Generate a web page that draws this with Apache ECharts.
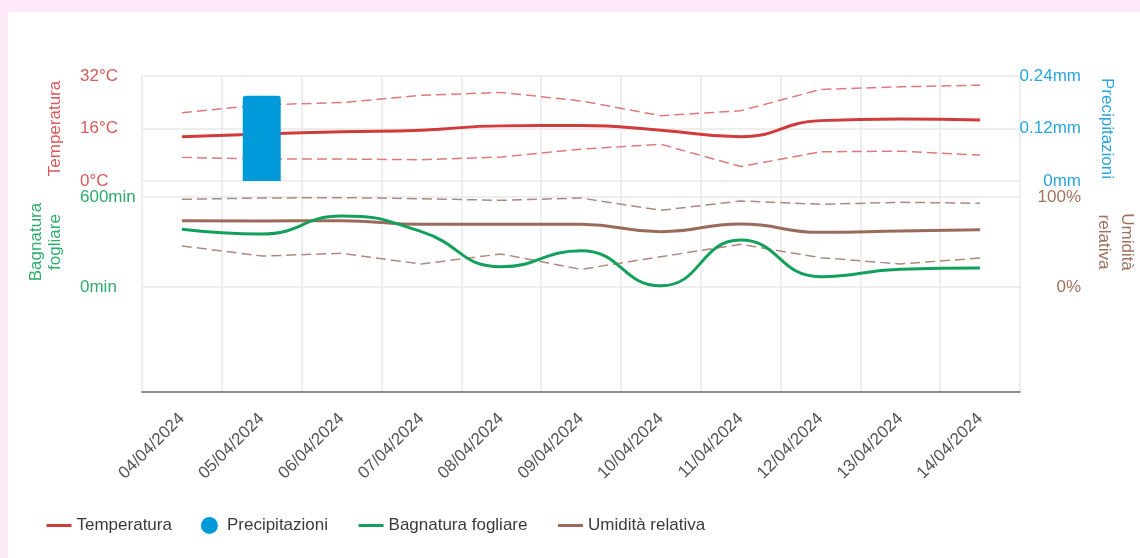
<!DOCTYPE html>
<html>
<head>
<meta charset="utf-8">
<script src="https://cdn.jsdelivr.net/npm/echarts@6/dist/echarts.min.js"></script>
<style>
  html, body { margin: 0; padding: 0; width: 1140px; height: 558px; background: #fce8f6; overflow: hidden; }
  #card { position: absolute; left: 8px; top: 12px; right: 0; bottom: 0; background: #ffffff; }
  #chart { position: absolute; left: 0; top: 0; width: 1140px; height: 558px; }
</style>
</head>
<body>
<div id="card"></div>
<div id="chart"></div>
<script>
const dates = ['04/04/2024','05/04/2024','06/04/2024','07/04/2024','08/04/2024','09/04/2024','10/04/2024','11/04/2024','12/04/2024','13/04/2024','14/04/2024'];
const tempAvg = [13.5, 14.3, 15.0, 15.5, 16.8, 16.9, 15.5, 13.5, 18.4, 18.9, 18.6];
const tempMax = [20.8, 23.2, 23.9, 26.1, 27.0, 24.4, 19.9, 21.4, 27.9, 28.7, 29.2];
const tempMin = [7.2, 6.7, 6.7, 6.5, 7.3, 9.7, 11.2, 4.4, 8.9, 9.1, 7.9];
const precip = [0, 0.195, 0, 0, 0, 0, 0, 0, 0, 0, 0];
const leafWet = [385, 353, 473, 369, 135, 242, 8, 313, 69, 118, 127];
const humAvg = [73.7, 73.3, 73.7, 69.6, 69.6, 69.6, 61.5, 70, 60.7, 62.2, 63.7];
const humMax = [97.4, 98.9, 99.3, 98.1, 96.3, 98.9, 85.2, 95.6, 91.9, 94.1, 93];
const humMin = [45.6, 34.4, 37.4, 25.6, 36.7, 19.6, 33.7, 47.4, 32.6, 25.6, 32.2];

const FONT = '"Liberation Sans", Arial, sans-serif';
const RED = '#d13b3b', RED_L = '#e07a7a', RED_T = '#d9585a';
const BLUE = '#009ada', BLUE_T = '#2aa6df';
const GREEN = '#12a05a', GREEN_T = '#2fac6c';
const BROWN = '#9a6b5c', BROWN_L = '#ad8a7e', BROWN_T = '#a0725f';
const GRIDC = '#e8e8e8';

const chart = echarts.init(document.getElementById('chart'));
const gridPos = { left: 142, right: 120, outerBoundsMode: 'none', containLabel: false };
const hiddenX = (gi) => ({ type: 'category', gridIndex: gi, data: dates, boundaryGap: true, show: false });
const noSym = { opacity: 0 };

chart.setOption({
  animation: false,
  textStyle: { fontFamily: FONT },
  grid: [
    Object.assign({ top: 76, bottom: 166 }, gridPos),
    Object.assign({ top: 76, height: 105 }, gridPos),
    Object.assign({ top: 197, height: 90 }, gridPos)
  ],
  legend: {
    left: 40, top: 512,
    itemWidth: 25, itemHeight: 17, itemGap: 29,
    textStyle: { fontSize: 17, color: '#3a3a3a', fontFamily: FONT },
    data: [
      { name: 'Temperatura', itemStyle: noSym, lineStyle: { width: 3, color: RED } },
      { name: 'Precipitazioni', icon: 'circle' },
      { name: 'Bagnatura fogliare', itemStyle: noSym, lineStyle: { width: 3, color: GREEN } },
      { name: 'Umidità relativa', itemStyle: noSym, lineStyle: { width: 3, color: BROWN } }
    ]
  },
  xAxis: [
    {
      type: 'category', gridIndex: 0, data: dates, boundaryGap: true,
      axisLine: { show: true, lineStyle: { color: '#6b6b6b', width: 1.5 } },
      axisTick: { show: false },
      splitLine: { show: true, lineStyle: { color: GRIDC, width: 1.5 } },
      axisLabel: { rotate: 45, fontSize: 17, color: '#555', margin: 24, interval: 0, fontFamily: FONT }
    },
    hiddenX(1),
    hiddenX(2)
  ],
  yAxis: [
    { type: 'value', gridIndex: 0, show: false, min: 0, max: 1 },
    {
      type: 'value', gridIndex: 1, min: 0, max: 32, interval: 16, position: 'left',
      name: 'Temperatura', nameLocation: 'middle', nameGap: 78, nameRotate: 90,
      nameTextStyle: { color: RED_T, fontSize: 17, fontFamily: FONT },
      axisLine: { show: false }, axisTick: { show: false },
      splitLine: { show: true, lineStyle: { color: GRIDC, width: 1.5 } },
      axisLabel: { formatter: '{value}°C', color: RED_T, fontSize: 17, align: 'left', margin: 62, fontFamily: FONT }
    },
    {
      type: 'value', gridIndex: 1, min: 0, max: 0.24, interval: 0.12, position: 'right',
      name: 'Precipitazioni', nameLocation: 'middle', nameGap: 78, nameRotate: -90,
      nameTextStyle: { color: BLUE_T, fontSize: 17, fontFamily: FONT },
      axisLine: { show: false }, axisTick: { show: false }, splitLine: { show: false },
      axisLabel: { formatter: (v) => (+v.toFixed(2)) + 'mm', color: BLUE_T, fontSize: 17, align: 'right', margin: 61, fontFamily: FONT }
    },
    {
      type: 'value', gridIndex: 2, min: 0, max: 600, interval: 600, position: 'left',
      name: 'Bagnatura\nfogliare', nameLocation: 'middle', nameGap: 77, nameRotate: 90,
      nameTextStyle: { color: GREEN_T, fontSize: 17, lineHeight: 19, fontFamily: FONT },
      axisLine: { show: false }, axisTick: { show: false },
      splitLine: { show: true, lineStyle: { color: GRIDC, width: 1.5 } },
      axisLabel: { formatter: '{value}min', color: GREEN_T, fontSize: 17, align: 'left', margin: 62, fontFamily: FONT }
    },
    {
      type: 'value', gridIndex: 2, min: 0, max: 100, interval: 100, position: 'right',
      name: 'Umidità\nrelativa', nameLocation: 'middle', nameGap: 72, nameRotate: -90,
      nameTextStyle: { color: BROWN_T, fontSize: 17, lineHeight: 23, fontFamily: FONT },
      axisLine: { show: false }, axisTick: { show: false }, splitLine: { show: false },
      axisLabel: { formatter: '{value}%', color: BROWN_T, fontSize: 17, align: 'right', margin: 61, fontFamily: FONT }
    }
  ],
  series: [
    { name: 'Temperatura max', type: 'line', xAxisIndex: 1, yAxisIndex: 1, data: tempMax, symbol: 'none',
      lineStyle: { color: RED_L, width: 1.5, type: [10, 5] }, itemStyle: { color: RED_L }, z: 2 },
    { name: 'Temperatura min', type: 'line', xAxisIndex: 1, yAxisIndex: 1, data: tempMin, symbol: 'none',
      lineStyle: { color: RED_L, width: 1.5, type: [10, 5] }, itemStyle: { color: RED_L }, z: 2 },
    { name: 'Temperatura', type: 'line', xAxisIndex: 1, yAxisIndex: 1, data: tempAvg, symbol: 'none', smooth: true,
      lineStyle: { color: RED, width: 3 }, itemStyle: { color: RED }, z: 3 },
    { name: 'Precipitazioni', type: 'bar', xAxisIndex: 1, yAxisIndex: 2, data: precip, barWidth: 38,
      itemStyle: { color: BLUE, borderRadius: [3, 3, 0, 0] }, z: 5 },
    { name: 'Umidità max', type: 'line', xAxisIndex: 2, yAxisIndex: 4, data: humMax, symbol: 'none',
      lineStyle: { color: BROWN_L, width: 1.5, type: [10, 5] }, itemStyle: { color: BROWN_L }, z: 2 },
    { name: 'Umidità min', type: 'line', xAxisIndex: 2, yAxisIndex: 4, data: humMin, symbol: 'none',
      lineStyle: { color: BROWN_L, width: 1.5, type: [10, 5] }, itemStyle: { color: BROWN_L }, z: 2 },
    { name: 'Umidità relativa', type: 'line', xAxisIndex: 2, yAxisIndex: 4, data: humAvg, symbol: 'none', smooth: true,
      lineStyle: { color: BROWN, width: 3 }, itemStyle: { color: BROWN }, z: 3 },
    { name: 'Bagnatura fogliare', type: 'line', xAxisIndex: 2, yAxisIndex: 3, data: leafWet, symbol: 'none', smooth: true,
      lineStyle: { color: GREEN, width: 3 }, itemStyle: { color: GREEN }, z: 4 }
  ]
});
</script>
</body>
</html>
